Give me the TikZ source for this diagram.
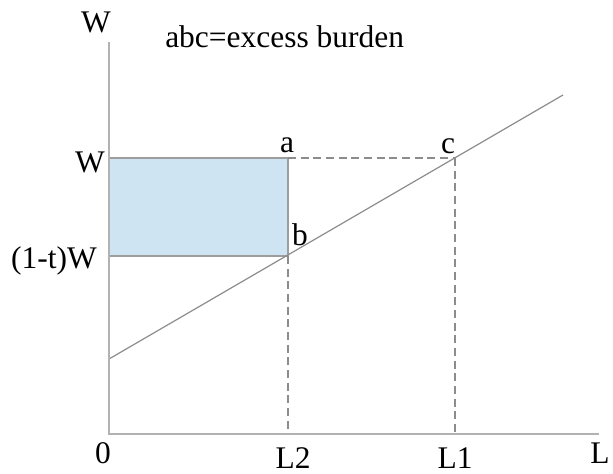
\documentclass[tikz,border=0pt]{standalone}
\usepackage{fontspec}
\setmainfont{Liberation Serif}
\usetikzlibrary{positioning}
\definecolor{AxisGray}{RGB}{178,178,178}
\definecolor{LineGray}{RGB}{140,140,140}
\definecolor{SoftBlue}{RGB}{207,228,242}
\tikzset{
  lbl/.style={font=\fontsize{23.6}{27}\selectfont,text=black,inner sep=0pt,anchor=base},
  axisline/.style={draw=AxisGray,line width=1.4pt},
  curve/.style={draw=LineGray,line width=0.9pt},
  guide/.style={draw=LineGray,line width=0.9pt,dash pattern=on 6pt off 3.5pt},
  burden/.style={fill=SoftBlue,draw=LineGray!85,line width=0.9pt}
}
\begin{document}
\begin{tikzpicture}[x=0.75pt,y=-0.75pt]
  \useasboundingbox (0,0) rectangle (613,474);
  % points
  \coordinate (O) at (109,434);
  \coordinate (ytop) at (109,42);
  \coordinate (xend) at (599,434);
  \coordinate (a) at (288,158);
  \coordinate (b) at (288,256);
  \coordinate (c) at (455,158);
  \coordinate (tWy) at (109,256);
  \coordinate (L2x) at (288,434);
  \coordinate (L1x) at (455,434);
  \coordinate (s0) at (109,359);
  \coordinate (s1) at (563,95);
  % excess burden area
  \draw[burden] (tWy) rectangle (a);
  \draw[guide] (a) -- (c);
  \draw[guide] (b) -- (L2x);
  \draw[guide] (c) -- (L1x);
  \draw[curve] (s0) -- (s1);
  \draw[axisline] (ytop) -- (O) -- (xend);
  % labels
  \node[lbl] (ylbl) at (96,33) {W};
  \node[lbl,anchor=base west] (title) at (165,48) {abc=excess burden};
  \node[lbl] (lbla) at (287,152) {a};
  \node[lbl] (lblb) at (300,245) {b};
  \node[lbl] (lblc) at (448,153) {c};
  \node[lbl] (Wlbl) at (90,172) {W};
  \node[lbl] (tWlbl) at (54,268) {(1-t)W};
  \node[lbl] (zero) at (103,463) {0};
  \node[lbl] (L2lbl) at (293,468) {L2};
  \node[lbl] (L1lbl) at (455,468) {L1};
  \node[lbl] (xlbl) at (600,463) {L};
\end{tikzpicture}
\end{document}
